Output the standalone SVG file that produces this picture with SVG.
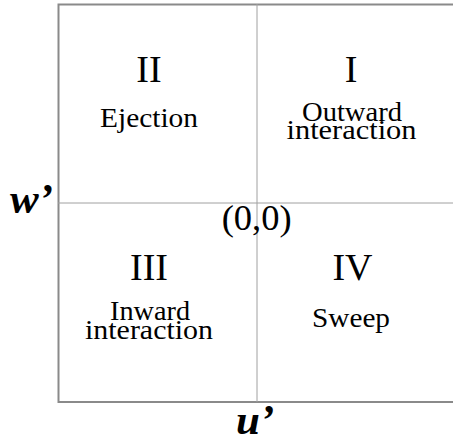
<svg xmlns="http://www.w3.org/2000/svg" width="453" height="444" viewBox="0 0 453 444">
<style>
.t{font-family:"Liberation Serif","Times New Roman",serif;fill:#000;text-anchor:middle}
.num{font-size:38px}
.lab{font-size:28px}
.ax{font-family:"Liberation Serif","Times New Roman",serif;font-weight:bold;font-style:italic;font-size:43px;fill:#000}
.frame{fill:none;stroke:#8a8a8a;stroke-width:2}
.axis{stroke:#a0a0a0;stroke-width:1}
</style>
<rect width="453" height="444" fill="#fff"/>
<g id="frame">
<path class="frame" d="M470 4.5 H58.5 V402 H470"/>
</g>
<g id="axes">
<line class="axis" x1="257" y1="4" x2="257" y2="402"/>
<line class="axis" x1="58" y1="203" x2="453" y2="203"/>
</g>
<g id="q2">
<text class="t num" x="149" y="81.5">II</text>
<text class="t lab" x="149" y="127" textLength="98" lengthAdjust="spacingAndGlyphs">Ejection</text>
</g>
<g id="q1">
<text class="t num" x="351" y="81.5">I</text>
<text class="t lab" x="352" y="121" textLength="100" lengthAdjust="spacingAndGlyphs">Outward</text>
<text class="t lab" x="351.5" y="139" textLength="130" lengthAdjust="spacingAndGlyphs">interaction</text>
</g>
<g id="q3">
<text class="t num" x="149" y="280">III</text>
<text class="t lab" x="150" y="320" textLength="80" lengthAdjust="spacingAndGlyphs">Inward</text>
<text class="t lab" x="149" y="339" textLength="128" lengthAdjust="spacingAndGlyphs">interaction</text>
</g>
<g id="q4">
<text class="t num" x="352.5" y="279.5">IV</text>
<text class="t lab" x="351" y="327" textLength="78" lengthAdjust="spacingAndGlyphs">Sweep</text>
</g>
<g id="origin">
<text class="t" x="256.7" y="230" style="font-size:36px" textLength="70" lengthAdjust="spacingAndGlyphs">(0,0)</text>
</g>
<g id="labels">
<text class="ax" x="10" y="213">w’</text>
<text class="ax" x="236" y="434">u’</text>
</g>
</svg>
